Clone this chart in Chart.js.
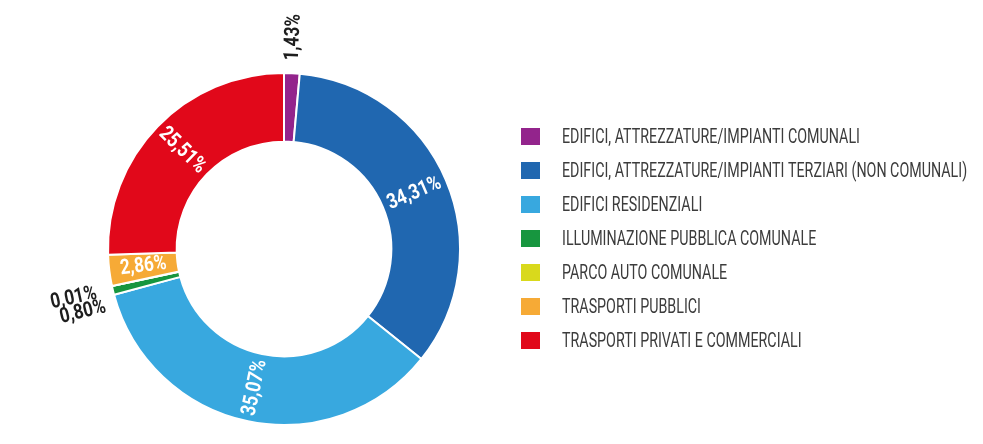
<!DOCTYPE html>
<html>
<head>
<meta charset="utf-8">
<script src="https://cdn.jsdelivr.net/npm/chart.js@4.4.1/dist/chart.umd.min.js"></script>
<style>
	html, body { margin: 0; padding: 0; background: #fff; }
	#box { width: 983px; height: 444px; position: relative; }
</style>
</head>
<body>
<div id="box"><canvas id="chart-area"></canvas></div>
<script>
var categorie = [
	'EDIFICI, ATTREZZATURE/IMPIANTI COMUNALI',
	'EDIFICI, ATTREZZATURE/IMPIANTI TERZIARI (NON COMUNALI)',
	'EDIFICI RESIDENZIALI',
	'ILLUMINAZIONE PUBBLICA COMUNALE',
	'PARCO AUTO COMUNALE',
	'TRASPORTI PUBBLICI',
	'TRASPORTI PRIVATI E COMMERCIALI'
];
var percentuali = [1.43, 34.31, 35.07, 0.80, 0.01, 2.86, 25.51];
var colori = ['#93248c', '#2067b0', '#38a8df', '#17963f', '#d9d91c', '#f6aa36', '#e1081a'];

// nessun font condensato installato: stringo il testo in orizzontale
var fontBase = "Roboto, 'Noto Sans', sans-serif";

function formatPerc(v){
	return v.toFixed(2).replace('.', ',') + '%';
}

// etichette percentuali ruotate in senso radiale
var etichette = {
	id: 'etichette',
	afterDatasetsDraw: function(chart){
		var ctx = chart.ctx;
		var meta = chart.getDatasetMeta(0);
		var fuori = [];
		ctx.save();
		ctx.font = 'bold 21px ' + fontBase;
		ctx.textAlign = 'center';
		ctx.textBaseline = 'middle';
		for (var i = 0; i < meta.data.length; i++) {
			var p = meta.data[i].getProps(['x', 'y', 'startAngle', 'endAngle', 'innerRadius', 'outerRadius'], true);
			var mid = (p.startAngle + p.endAngle) / 2;
			var dentro = percentuali[i] >= 2;
			var r = dentro ? (p.innerRadius + p.outerRadius) / 2 : p.outerRadius + 36;
			var rot = Math.atan2(Math.sin(mid), Math.cos(mid));
			if (rot > Math.PI / 2) rot -= Math.PI;
			if (rot < -Math.PI / 2) rot += Math.PI;
			var lab = {
				x: p.x + r * Math.cos(mid),
				y: p.y + r * Math.sin(mid),
				rot: rot,
				text: formatPerc(percentuali[i]),
				color: dentro ? '#ffffff' : '#1e1e1e'
			};
			if (dentro) disegna(ctx, lab); else fuori.push(lab);
		}
		// separo le etichette esterne sovrapposte
		fuori.sort(function(a, b){ return a.y - b.y; });
		for (var j = 1; j < fuori.length; j++) {
			var a = fuori[j - 1], b = fuori[j];
			if (Math.abs(b.y - a.y) < 14 && Math.abs(b.x - a.x) < 60) {
				var m = (a.y + b.y) / 2;
				a.y = m + 2; a.x -= 3;
				b.y = m + 16; b.x += 5;
			}
		}
		for (var k = 0; k < fuori.length; k++) disegna(ctx, fuori[k]);
		ctx.restore();
	}
};

function disegna(ctx, lab){
	ctx.save();
	ctx.translate(lab.x, lab.y);
	ctx.rotate(lab.rot);
	ctx.scale(0.82, 1);
	ctx.fillStyle = lab.color;
	ctx.fillText(lab.text, 0, 0);
	ctx.restore();
}

// legenda disegnata a mano (testo stretto come nell'originale)
var legenda = {
	id: 'legenda',
	afterDraw: function(chart){
		var ctx = chart.ctx;
		var x0 = 521, y0 = 136.5, passo = 34;
		ctx.save();
		ctx.font = '21px ' + fontBase;
		ctx.textBaseline = 'middle';
		var sx = 298 / ctx.measureText(categorie[0]).width;
		for (var i = 0; i < categorie.length; i++) {
			var y = y0 + i * passo;
			ctx.fillStyle = colori[i];
			ctx.fillRect(x0, y - 8.5, 19, 17);
			ctx.save();
			ctx.translate(562, y + 1);
			ctx.scale(sx, 1);
			ctx.fillStyle = '#3c3c3c';
			ctx.fillText(categorie[i], 0, 0);
			ctx.restore();
		}
		ctx.restore();
	}
};

var config = {
	type: 'doughnut',
	data: {
		labels: categorie,
		datasets: [{
			data: percentuali,
			backgroundColor: colori,
			borderColor: '#ffffff',
			borderWidth: 2
		}]
	},
	options: {
		responsive: true,
		maintainAspectRatio: false,
		animation: false,
		cutout: '61%',
		layout: {
			padding: { left: 0, right: 415, top: 72, bottom: 18 }
		},
		plugins: {
			tooltip: { enabled: false },
			legend: { display: false }
		}
	},
	plugins: [etichette, legenda]
};

var ctx = document.getElementById('chart-area').getContext('2d');
window.myPie = new Chart(ctx, config);
</script>
</body>
</html>
